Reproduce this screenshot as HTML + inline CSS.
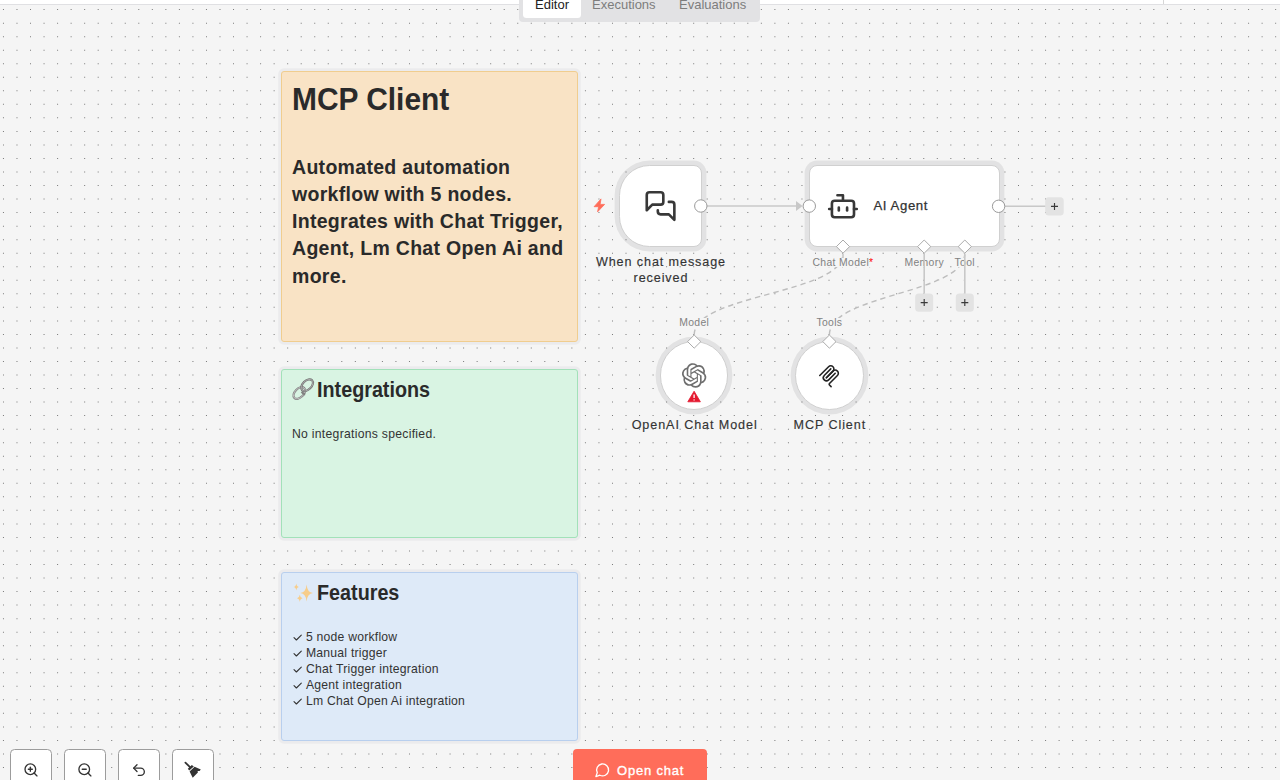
<!DOCTYPE html>
<html><head><meta charset="utf-8">
<style>
*{box-sizing:border-box;margin:0;padding:0}
html,body{width:1280px;height:780px;overflow:hidden;background:#f5f5f5;font-family:"Liberation Sans",sans-serif;color:#333}
.abs{position:absolute}
svg{position:absolute;left:0;top:0;overflow:visible}
.hdr{position:absolute;left:0;top:0;width:1280px;height:5px;background:#fff;border-bottom:1px solid #e0e0e3}
.hdr .vl{position:absolute;left:1163px;top:0;width:1px;height:4px;background:#d6d6d6}
.tabs{position:absolute;left:519px;top:-10px;width:241px;height:32px;background:#e2e2e4;border-radius:4px}
.tabact{position:absolute;left:4px;top:0;width:58px;height:28px;background:#fff;border-radius:3.5px}
.sticky{position:absolute;border:1px solid;border-radius:3px;box-shadow:0 0 0 2.8px rgba(0,0,40,0.04)}
.s1{left:281px;top:71px;width:296.6px;height:271px;background:#f9e3c5;border-color:#f0cd8f}
.s2{left:281px;top:369px;width:296.6px;height:169px;background:#d9f4e3;border-color:#a2e1b9}
.s3{left:281px;top:572px;width:296.6px;height:169px;background:#deeaf8;border-color:#b8cfee}
.t{position:absolute;white-space:nowrap}
.node{position:absolute;background:#fff;border:1.5px solid #d0d0d0;box-shadow:0 0 0 4.4px rgba(0,0,10,0.075)}
.lbl{position:absolute;font-size:10.4px;line-height:9px;color:#818181;white-space:nowrap;transform:translateX(-50%);background:#f5f5f5;letter-spacing:0.35px;padding:0 1px}
.nname{position:absolute;font-size:12.6px;color:#333;white-space:nowrap;text-align:center;transform:translateX(-50%);line-height:16.7px;letter-spacing:0.9px;padding-left:0.9px;-webkit-text-stroke:0.15px #333}
.btn{position:absolute;top:749px;width:42px;height:40px;background:#fff;border:1px solid #9c9c9c;border-radius:4.5px}
</style></head><body>
<svg width="1280" height="780"><defs><path id="dr" fill="#7a7a7a" d="M2.950 0h1v1h-1zm13.534 0h1v1h-1zm13.534 0h1v1h-1zm13.534 0h1v1h-1zm13.534 0h1v1h-1zm13.534 0h1v1h-1zm13.534 0h1v1h-1zm13.534 0h1v1h-1zm13.534 0h1v1h-1zm13.534 0h1v1h-1zm13.534 0h1v1h-1zm13.534 0h1v1h-1zm13.534 0h1v1h-1zm13.534 0h1v1h-1zm13.534 0h1v1h-1zm13.534 0h1v1h-1zm13.534 0h1v1h-1zm13.534 0h1v1h-1zm13.534 0h1v1h-1zm13.534 0h1v1h-1zm13.534 0h1v1h-1zm13.534 0h1v1h-1zm13.534 0h1v1h-1zm13.534 0h1v1h-1zm13.534 0h1v1h-1zm13.534 0h1v1h-1zm13.534 0h1v1h-1zm13.534 0h1v1h-1zm13.534 0h1v1h-1zm13.534 0h1v1h-1zm13.534 0h1v1h-1zm13.534 0h1v1h-1zm13.534 0h1v1h-1zm13.534 0h1v1h-1zm13.534 0h1v1h-1zm13.534 0h1v1h-1zm13.534 0h1v1h-1zm13.534 0h1v1h-1zm13.534 0h1v1h-1zm13.534 0h1v1h-1zm13.534 0h1v1h-1zm13.534 0h1v1h-1zm13.534 0h1v1h-1zm13.534 0h1v1h-1zm13.534 0h1v1h-1zm13.534 0h1v1h-1zm13.534 0h1v1h-1zm13.534 0h1v1h-1zm13.534 0h1v1h-1zm13.534 0h1v1h-1zm13.534 0h1v1h-1zm13.534 0h1v1h-1zm13.534 0h1v1h-1zm13.534 0h1v1h-1zm13.534 0h1v1h-1zm13.534 0h1v1h-1zm13.534 0h1v1h-1zm13.534 0h1v1h-1zm13.534 0h1v1h-1zm13.534 0h1v1h-1zm13.534 0h1v1h-1zm13.534 0h1v1h-1zm13.534 0h1v1h-1zm13.534 0h1v1h-1zm13.534 0h1v1h-1zm13.534 0h1v1h-1zm13.534 0h1v1h-1zm13.534 0h1v1h-1zm13.534 0h1v1h-1zm13.534 0h1v1h-1zm13.534 0h1v1h-1zm13.534 0h1v1h-1zm13.534 0h1v1h-1zm13.534 0h1v1h-1zm13.534 0h1v1h-1zm13.534 0h1v1h-1zm13.534 0h1v1h-1zm13.534 0h1v1h-1zm13.534 0h1v1h-1zm13.534 0h1v1h-1zm13.534 0h1v1h-1zm13.534 0h1v1h-1zm13.534 0h1v1h-1zm13.534 0h1v1h-1zm13.534 0h1v1h-1zm13.534 0h1v1h-1zm13.534 0h1v1h-1zm13.534 0h1v1h-1zm13.534 0h1v1h-1zm13.534 0h1v1h-1zm13.534 0h1v1h-1zm13.534 0h1v1h-1zm13.534 0h1v1h-1zm13.534 0h1v1h-1zm13.534 0h1v1h-1z"/></defs><use href="#dr" y="9.10"/><use href="#dr" y="22.63"/><use href="#dr" y="36.17"/><use href="#dr" y="49.70"/><use href="#dr" y="63.24"/><use href="#dr" y="76.77"/><use href="#dr" y="90.30"/><use href="#dr" y="103.84"/><use href="#dr" y="117.37"/><use href="#dr" y="130.91"/><use href="#dr" y="144.44"/><use href="#dr" y="157.97"/><use href="#dr" y="171.51"/><use href="#dr" y="185.04"/><use href="#dr" y="198.58"/><use href="#dr" y="212.11"/><use href="#dr" y="225.64"/><use href="#dr" y="239.18"/><use href="#dr" y="252.71"/><use href="#dr" y="266.25"/><use href="#dr" y="279.78"/><use href="#dr" y="293.31"/><use href="#dr" y="306.85"/><use href="#dr" y="320.38"/><use href="#dr" y="333.92"/><use href="#dr" y="347.45"/><use href="#dr" y="360.98"/><use href="#dr" y="374.52"/><use href="#dr" y="388.05"/><use href="#dr" y="401.59"/><use href="#dr" y="415.12"/><use href="#dr" y="428.65"/><use href="#dr" y="442.19"/><use href="#dr" y="455.72"/><use href="#dr" y="469.26"/><use href="#dr" y="482.79"/><use href="#dr" y="496.32"/><use href="#dr" y="509.86"/><use href="#dr" y="523.39"/><use href="#dr" y="536.93"/><use href="#dr" y="550.46"/><use href="#dr" y="563.99"/><use href="#dr" y="577.53"/><use href="#dr" y="591.06"/><use href="#dr" y="604.60"/><use href="#dr" y="618.13"/><use href="#dr" y="631.66"/><use href="#dr" y="645.20"/><use href="#dr" y="658.73"/><use href="#dr" y="672.27"/><use href="#dr" y="685.80"/><use href="#dr" y="699.33"/><use href="#dr" y="712.87"/><use href="#dr" y="726.40"/><use href="#dr" y="739.94"/><use href="#dr" y="753.47"/><use href="#dr" y="767.00"/></svg>

<div class="hdr"><div class="vl"></div></div>
<div class="tabs">
  <div class="tabact"></div>
  <div class="t" style="left:16px;top:7px;font-size:13px;color:#222">Editor</div>
  <div class="t" style="left:73px;top:7px;font-size:13px;color:#7d7d7d">Executions</div>
  <div class="t" style="left:160px;top:7px;font-size:13px;color:#7d7d7d">Evaluations</div>
</div>

<!-- sticky notes -->
<div class="sticky s1"></div>
<div class="sticky s2"></div>
<div class="sticky s3"></div>

<div class="t" style="left:292px;top:80.8px;font-size:31.8px;font-weight:bold;color:#2a2a2a;transform:scaleX(0.94);transform-origin:0 0">MCP Client</div>
<div class="t" style="left:292px;top:153.85px;font-size:19.5px;font-weight:bold;color:#2a2a2a;line-height:27.2px;letter-spacing:0.3px">Automated automation<br>workflow with 5 nodes.<br>Integrates with Chat Trigger,<br>Agent, Lm Chat Open Ai and<br>more.</div>

<div class="t" style="left:317px;top:377.45px;font-size:21.6px;font-weight:bold;color:#2a2a2a;transform:scaleX(0.915);transform-origin:0 0">Integrations</div>
<div class="t" style="left:292px;top:427px;font-size:12.2px;color:#333;letter-spacing:0.28px">No integrations specified.</div>

<div class="t" style="left:317px;top:580.35px;font-size:21.6px;font-weight:bold;color:#2a2a2a;transform:scaleX(0.915);transform-origin:0 0">Features</div>
<div class="t" style="left:306px;top:629px;font-size:12.2px;color:#333;line-height:16px;letter-spacing:0.22px">5 node workflow<br>Manual trigger<br>Chat Trigger integration<br>Agent integration<br>Lm Chat Open Ai integration</div>

<!-- emoji: link -->
<svg width="1280" height="780">
 <g fill="none">
  <ellipse cx="299.3" cy="393" rx="7" ry="4.4" transform="rotate(-45 299.3 393)" stroke="#808080" stroke-width="2.1"/>
  <ellipse cx="299.3" cy="393" rx="7" ry="4.4" transform="rotate(-45 299.3 393)" stroke="#d4d4d4" stroke-width="0.7"/>
  <ellipse cx="307.1" cy="385.2" rx="7" ry="4.4" transform="rotate(-45 307.1 385.2)" stroke="#6e6e6e" stroke-width="2.1"/>
  <ellipse cx="307.1" cy="385.2" rx="7" ry="4.4" transform="rotate(-45 307.1 385.2)" stroke="#c4c4c4" stroke-width="0.7"/>
  <path d="M301.8 391.6 A4 4 0 0 0 305.2 394.2" stroke="#808080" stroke-width="2.1"/>
 </g>
 <!-- sparkles -->
 <g fill="#f7cd8a">
  <path d="M306.6 584.4 Q307.2 592.2 312.9 593 Q307.2 593.8 306.6 601.4 Q306 593.8 300.3 593 Q306 592.2 306.6 584.4Z"/>
  <path d="M296.3 583.6 Q296.7 586.7 299.2 587.1 Q296.7 587.5 296.3 590.6 Q295.9 587.5 293.4 587.1 Q295.9 586.7 296.3 583.6Z"/>
  <path d="M299.8 594.8 Q300.2 597.8 302.6 598.2 Q300.2 598.6 299.8 602 Q299.4 598.6 297 598.2 Q299.4 597.8 299.8 594.8Z"/>
 </g>
 <!-- checkmarks -->
 <g fill="none" stroke="#333" stroke-width="1.1" stroke-linecap="round" stroke-linejoin="round">
  <path d="M294 637.6 L296.4 640 L301.3 635.2"/>
  <path d="M294 653.6 L296.4 656 L301.3 651.2"/>
  <path d="M294 669.6 L296.4 672 L301.3 667.2"/>
  <path d="M294 685.6 L296.4 688 L301.3 683.2"/>
  <path d="M294 701.6 L296.4 704 L301.3 699.2"/>
 </g>
</svg>

<!-- edges (under nodes) -->
<svg width="1280" height="780">
 <g fill="none" stroke="#bdbdbd" stroke-width="1.4" stroke-dasharray="5.4 4">
  <path d="M694.2 334.8 C694.2 294.1 843 294.1 843 253.4"/>
  <path d="M829.4 334.8 C829.4 294.1 964.8 294.1 964.8 253.4"/>
 </g>
 <g fill="none" stroke="#c8c8c8" stroke-width="1.6">
  <path d="M707 206 H797"/>
  <path d="M843 253.4 V258"/>
  <path d="M1004 206.3 H1046"/>
 </g>
 <path d="M796 201.1 L802.6 206 L796 210.9Z" fill="#c8c8c8"/>
</svg>

<!-- nodes -->
<div class="node" style="left:619.4px;top:165.3px;width:82.2px;height:82px;border-radius:30.5px 8px 8px 30.5px"></div>
<div class="node" style="left:808.5px;top:165.3px;width:191.1px;height:82px;border-radius:8px"></div>
<div class="node" style="left:659.95px;top:341.4px;width:68.4px;height:68.4px;border-radius:50%"></div>
<div class="node" style="left:795.2px;top:341.4px;width:68.4px;height:68.4px;border-radius:50%"></div>

<div class="nname" style="left:660.5px;top:253.5px">When chat message<br>received</div>
<div class="t" style="left:873.5px;top:198px;font-size:13.2px;color:#333;letter-spacing:0.57px;-webkit-text-stroke:0.25px #333">AI Agent</div>
<div class="nname" style="left:694.2px;top:416.5px">OpenAI Chat Model</div>
<div class="nname" style="left:829.4px;top:416.5px">MCP Client</div>

<div class="lbl" style="left:843px;top:258px">Chat Model<span style="color:#f00">*</span></div>
<div class="lbl" style="left:924.2px;top:258px">Memory</div>
<div class="lbl" style="left:964.8px;top:258px">Tool</div>
<div class="lbl" style="left:694.2px;top:318px">Model</div>
<div class="lbl" style="left:829.4px;top:318px">Tools</div>

<!-- handles, icons -->
<svg width="1280" height="780">
 <g fill="#fff" stroke="#9a9a9a" stroke-width="1">
  <circle cx="700.8" cy="206" r="6.2"/>
  <circle cx="809.3" cy="206.1" r="6.2"/>
  <circle cx="998.6" cy="206.3" r="6.2"/>
 </g>
 <g fill="#fff" stroke="#ababab" stroke-width="1">
  <path d="M843 240 L849.6 246.6 L843 253.2 L836.4 246.6Z"/>
  <path d="M924.2 240 L930.8 246.6 L924.2 253.2 L917.6 246.6Z"/>
  <path d="M964.8 240 L971.4 246.6 L964.8 253.2 L958.2 246.6Z"/>
  <path d="M694.2 335 L700.8 341.6 L694.2 348.2 L687.6 341.6Z"/>
  <path d="M829.4 335 L836 341.6 L829.4 348.2 L822.8 341.6Z"/>
 </g>
 <path d="M924.2 253.4 V294 M964.8 253.4 V294" stroke="#c8c8c8" stroke-width="1.6" fill="none"/>
 <!-- plus buttons -->
 <g fill="#e3e3e3">
  <rect x="1045.2" y="197.3" width="18.5" height="18.2" rx="3.5"/>
  <rect x="915.2" y="293.4" width="18" height="18.4" rx="3.5"/>
  <rect x="955.8" y="293.4" width="18" height="18.4" rx="3.5"/>
 </g>
 <g stroke="#3a3a3a" stroke-width="1.15" fill="none">
  <path d="M1051 206.4 H1058 M1054.5 202.9 V209.9"/>
  <path d="M920.7 302.6 H927.7 M924.2 299.1 V306.1"/>
  <path d="M961.3 302.6 H968.3 M964.8 299.1 V306.1"/>
 </g>
 <!-- trigger bolt -->
 <path d="M601 198.9 L594.1 206.7 L598.6 206.7 L597.6 211.8 L604.6 204.4 L600.1 204.4 Z" fill="#ff6d5a" stroke="#ff6d5a" stroke-width="0.8" stroke-linejoin="round"/>
 <!-- chat icon (lucide messages-square) -->
 <g transform="translate(644,189.5) scale(1.38)" fill="none" stroke="#383838" stroke-width="1.9" stroke-linecap="round" stroke-linejoin="round">
  <path d="M14 9a2 2 0 0 1-2 2H6l-4 4V4a2 2 0 0 1 2-2h8a2 2 0 0 1 2 2z"/>
  <path d="M18 9h2a2 2 0 0 1 2 2v11l-4-4h-6a2 2 0 0 1-2-2v-1"/>
 </g>
 <!-- bot icon -->
 <g transform="translate(826.4,189.7) scale(1.38)" fill="none" stroke="#383838" stroke-width="1.9" stroke-linecap="round" stroke-linejoin="round">
  <path d="M12 8V4H8"/>
  <rect width="16" height="12" x="4" y="8" rx="2"/>
  <path d="M2 14h2"/><path d="M20 14h2"/><path d="M15 13v2"/><path d="M9 13v2"/>
 </g>
 <!-- openai -->
 <g transform="translate(681.9,363.2) scale(1.02)" fill="#6e6e6e">
  <path d="M22.2819 9.8211a5.9847 5.9847 0 0 0-.5157-4.9108 6.0462 6.0462 0 0 0-6.5098-2.9A6.0651 6.0651 0 0 0 4.9807 4.1818a5.9847 5.9847 0 0 0-3.9977 2.9 6.0462 6.0462 0 0 0 .7427 7.0966 5.98 5.98 0 0 0 .511 4.9107 6.051 6.051 0 0 0 6.5146 2.9001A5.9847 5.9847 0 0 0 13.2599 24a6.0557 6.0557 0 0 0 5.7718-4.2058 5.9894 5.9894 0 0 0 3.9977-2.9001 6.0557 6.0557 0 0 0-.7475-7.0729zm-9.022 12.6081a4.4755 4.4755 0 0 1-2.8764-1.0408l.1419-.0804 4.7783-2.7582a.7948.7948 0 0 0 .3927-.6813v-6.7369l2.02 1.1686a.071.071 0 0 1 .038.052v5.5826a4.504 4.504 0 0 1-4.4945 4.4944zm-9.6607-4.1254a4.4708 4.4708 0 0 1-.5346-3.0137l.142.0852 4.783 2.7582a.7712.7712 0 0 0 .7806 0l5.8428-3.3685v2.3324a.0804.0804 0 0 1-.0332.0615L9.74 19.9502a4.4992 4.4992 0 0 1-6.1408-1.6464zM2.3408 7.8956a4.485 4.485 0 0 1 2.3655-1.9728V11.6a.7664.7664 0 0 0 .3879.6765l5.8144 3.3543-2.0201 1.1685a.0757.0757 0 0 1-.071 0l-4.8303-2.7865A4.504 4.504 0 0 1 2.3408 7.872zm16.5963 3.8558L13.1038 8.364 15.1192 7.2a.0757.0757 0 0 1 .071 0l4.8303 2.7913a4.4944 4.4944 0 0 1-.6765 8.1042v-5.6772a.79.79 0 0 0-.407-.667zm2.0107-3.0231l-.142-.0852-4.7735-2.7818a.7759.7759 0 0 0-.7854 0L9.409 9.2297V6.8974a.0662.0662 0 0 1 .0284-.0615l4.8303-2.7866a4.4992 4.4992 0 0 1 6.6802 4.66zM8.3065 12.863l-2.02-1.1638a.0804.0804 0 0 1-.038-.0567V6.0742a4.4992 4.4992 0 0 1 7.3757-3.4537l-.142.0805L8.704 5.459a.7948.7948 0 0 0-.3927.6813zm1.0976-2.3654l2.602-1.4998 2.6069 1.4998v2.9994l-2.5974 1.4997-2.6067-1.4997Z"/>
 </g>
 <!-- warning -->
 <path d="M694.1 391.2 L700.4 401.8 L687.8 401.8Z" fill="#e5182f" stroke="#e5182f" stroke-width="0.8" stroke-linejoin="round"/>
 <path d="M694.1 394.4 V398" stroke="#fff" stroke-width="1.3"/>
 <circle cx="694.1" cy="399.9" r="0.7" fill="#fff"/>
 <!-- mcp -->
 <g transform="translate(816.5,362.8) scale(0.13)" fill="none" stroke="#222" stroke-width="12" stroke-linecap="round">
  <path d="M25 97.8528L92.8823 29.9706C102.255 20.598 117.451 20.598 126.823 29.9706V29.9706C136.196 39.3431 136.196 54.5391 126.823 63.9117L75.5581 115.177"/>
  <path d="M76.2653 114.47L126.823 63.9117C136.196 54.5391 151.392 54.5391 160.765 63.9117L161.118 64.2652C170.491 73.6378 170.491 88.8338 161.118 98.2063L99.7248 159.6C96.6006 162.724 96.6006 167.789 99.7248 170.913L112.331 183.52"/>
  <path d="M109.853 46.9411L59.6482 97.1457C50.2757 106.518 50.2757 121.714 59.6482 131.087V131.087C69.0208 140.459 84.2168 140.459 93.5894 131.087L143.794 80.8822"/>
 </g>
</svg>

<!-- bottom toolbar -->
<div class="btn" style="left:10px"></div>
<div class="btn" style="left:64px"></div>
<div class="btn" style="left:118px"></div>
<div class="btn" style="left:172px"></div>
<svg width="1280" height="780">
 <g fill="none" stroke="#333" stroke-width="2" stroke-linecap="round" stroke-linejoin="round">
  <g transform="translate(23,761.9) scale(0.667)"><circle cx="11" cy="11" r="8"/><path d="m21 21-4.35-4.35"/><path d="M11 8v6"/><path d="M8 11h6"/></g>
  <g transform="translate(76.9,761.9) scale(0.667)"><circle cx="11" cy="11" r="8"/><path d="m21 21-4.35-4.35"/><path d="M8 11h6"/></g>
  <g transform="translate(131,762.1) scale(0.667)"><path d="M9 14 4 9l5-5"/><path d="M4 9h10.5a5.5 5.5 0 0 1 5.5 5.5a5.5 5.5 0 0 1-5.5 5.5H11"/></g>
 </g>
 <!-- broom -->
 <path d="M185.4 762.6 L190 767.2" stroke="#333" stroke-width="1.8" stroke-linecap="round"/>
 <path d="M187.8 768.8 L191.8 765 L193.8 766.5 L189.2 770.6Z" fill="#333"/>
 <path d="M189.6 771.4 L194.6 766.8 L200.8 769.6 L199.6 771 L197.6 770.9 L197.9 772.5 L192.7 777.8 L190.6 773.6Z" fill="#333"/>
</svg>

<div class="abs" style="left:573px;top:749px;width:134px;height:40px;background:#ff6d5a;border-radius:4px"></div>
<svg width="1280" height="780">
 <g transform="translate(594.6,761.9) scale(0.667)" fill="none" stroke="#fff" stroke-width="2" stroke-linecap="round" stroke-linejoin="round"><path d="M7.9 20A9 9 0 1 0 4 16.1L2 22Z"/></g>
</svg>
<div class="t" style="left:617px;top:763px;font-size:13px;color:#fff;letter-spacing:0.8px;-webkit-text-stroke:0.35px #fff">Open chat</div>
</body></html>
